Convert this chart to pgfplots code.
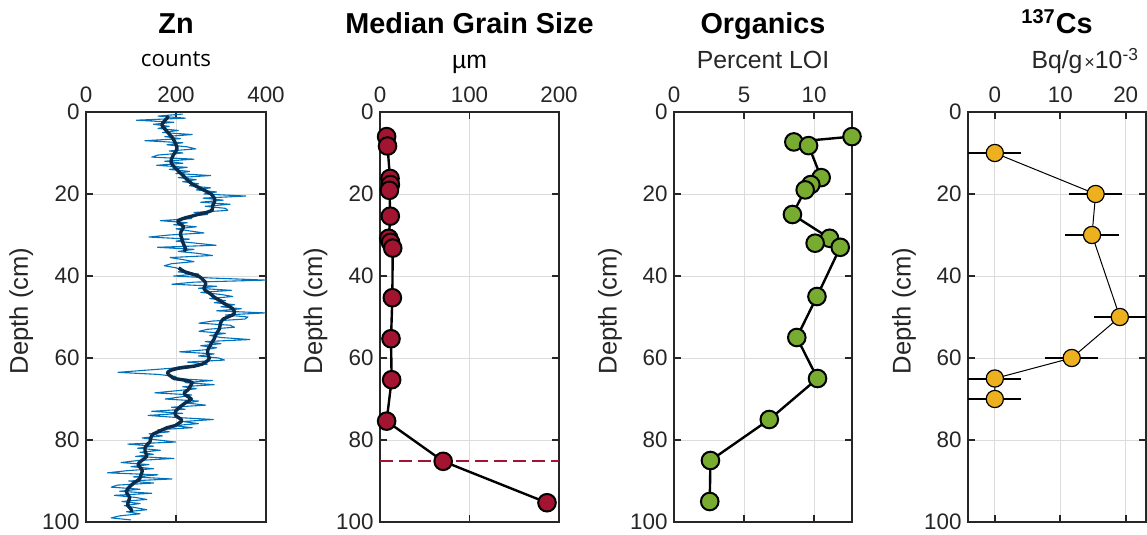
\documentclass[border=0pt]{standalone}
\usepackage{pgfplots}
\pgfplotsset{compat=1.18}
\usepackage{fontspec}
\setmainfont{Liberation Sans}
\newfontfamily\segoe{Open Sans}
\definecolor{tickgray}{HTML}{262626}
\definecolor{gridgray}{HTML}{DCDCDC}
\definecolor{znblue}{HTML}{0072BD}
\definecolor{zndark}{HTML}{0B2D4B}
\definecolor{grainred}{HTML}{A2142F}
\definecolor{orggreen}{HTML}{77AC30}
\definecolor{csorange}{HTML}{EDB120}

\pgfplotstableread{
x y
215 0.5
160 1.0
221 1.5
112 2.0
195 2.5
150 3.0
185 3.5
160 4.0
205 4.5
170 5.0
236 5.5
175 6.0
210 6.5
131 7.0
215 7.5
180 8.0
225 8.5
244 9.0
185 9.5
215 10.0
160 10.5
146 11.0
240 11.5
175 12.0
215 12.5
157 13.0
225 13.5
185 14.0
230 14.5
200 15.0
277 15.5
205 16.0
245 16.5
215 17.0
250 17.5
230 18.0
277 18.5
245 19.0
290 19.5
262 20.0
355 20.5
260 21.0
305 21.5
255 22.0
320 22.5
265 23.0
310 23.5
315 24.0
240 24.5
270 25.0
220 25.5
235 26.0
165 26.5
225 27.0
195 27.5
245 28.0
200 28.5
230 29.0
262 29.5
185 30.0
140 30.5
230 31.0
200 31.5
245 32.0
289 32.5
159 33.0
240 33.5
205 34.0
250 34.5
281 35.0
187 35.5
215 36.0
240 36.5
190 37.0
174 37.5
200 38.0
215 38.5
205 39.0
250 39.5
195 40.0
280 40.5
399 41.0
240 41.5
191 42.0
290 42.5
250 43.0
323 43.5
255 44.0
300 44.5
326 45.0
275 45.5
310 46.0
285 46.5
330 47.0
300 47.5
345 48.0
290 48.5
398 49.0
310 49.5
360 50.0
353 50.5
280 51.0
251 51.5
320 52.0
330 52.5
270 53.0
251 53.5
310 54.0
275 54.5
300 55.0
364 55.5
265 56.0
300 56.5
255 57.0
290 57.5
265 58.0
208 58.5
285 59.0
250 59.5
295 60.0
308 60.5
225 61.0
270 61.5
215 62.0
190 62.5
130 63.0
71 63.5
160 64.0
200 64.5
190 65.0
281 65.5
220 66.0
285 66.5
215 67.0
245 67.5
200 68.0
153 68.5
235 69.0
210 69.5
176 70.0
250 70.5
225 71.0
266 71.5
190 72.0
220 72.5
146 73.0
215 73.5
138 74.0
200 74.5
283 75.0
215 75.5
250 76.0
195 76.5
236 77.0
160 77.5
185 78.0
140 78.5
170 79.0
125 79.5
160 80.0
199 80.5
93 81.0
150 81.5
115 82.0
165 82.5
120 83.0
150 83.5
110 84.0
195 84.5
115 85.0
78 85.5
140 86.0
100 86.5
150 87.0
90 87.5
48 88.0
160 88.5
105 89.0
191 89.5
95 90.0
150 90.5
70 91.0
56 91.5
120 92.0
75 92.5
146 93.0
63 93.5
110 94.0
135 94.5
80 95.0
120 95.5
85 96.0
110 96.5
135 97.0
90 97.5
120 98.0
75 98.5
56 99.0
100 99.5
}\znraw

\pgfplotstableread{
x y
183 1.0
180 1.5
176 2.0
172 2.5
169 3.0
170 3.5
174 4.0
178 4.5
182 5.0
186 5.5
190 6.0
193 6.5
196 7.0
198 7.5
200 8.0
202 8.5
202 9.0
200 9.5
197 10.0
194 10.5
192 11.0
190 11.5
189 12.0
190 12.5
193 13.0
197 13.5
202 14.0
206 14.5
211 15.0
216 15.5
220 16.0
225 16.5
230 17.0
235 17.5
243 18.0
252 18.5
261 19.0
270 19.5
278 20.0
282 20.5
285 21.0
286 21.5
285 22.0
283 22.5
281 23.0
281 23.5
280 24.0
268 24.5
248 25.0
232 25.5
215 26.0
204 26.5
205 27.0
212 27.5
217 28.0
215 28.5
212 29.0
210 29.5
210 30.0
212 30.5
213 31.0
214 31.5
216 32.0
218 32.5
220 33.0
221 33.5
218 34.0
nan nan
206 38.0
212 38.5
220 39.0
235 39.5
250 40.0
256 40.5
261 41.0
265 41.5
266 42.0
264 42.5
262 43.0
265 43.5
272 44.0
278 44.5
283 45.0
290 45.5
298 46.0
304 46.5
312 47.0
320 47.5
326 48.0
329 48.5
330 49.0
326 49.5
315 50.0
305 50.5
301 51.0
299 51.5
298 52.0
297 52.5
296 53.0
293 53.5
290 54.0
288 54.5
286 55.0
284 55.5
281 56.0
278 56.5
276 57.0
273 57.5
271 58.0
270 58.5
271 59.0
272 59.5
274 60.0
272 60.5
266 61.0
258 61.5
240 62.0
205 62.5
188 63.0
181 63.5
183 64.0
189 64.5
196 65.0
225 65.5
236 66.0
234 66.5
231 67.0
229 67.5
224 68.0
218 68.5
220 69.0
228 69.5
234 70.0
228 70.5
220 71.0
214 71.5
208 72.0
203 72.5
199 73.0
198 73.5
199 74.0
205 74.5
212 75.0
212 75.5
205 76.0
198 76.5
180 77.0
170 77.5
160 78.0
150 78.5
146 79.0
144 79.5
143 80.0
142 80.5
137 81.0
133 81.5
131 82.0
131 82.5
132 83.0
134 83.5
135 84.0
130 84.5
124 85.0
118 85.5
116 86.0
119 86.5
123 87.0
125 87.5
124 88.0
122 88.5
121 89.0
119 89.5
113 90.0
106 90.5
101 91.0
96 91.5
92 92.0
90 92.5
91 93.0
94 93.5
97 94.0
96 94.5
94 95.0
93 95.5
93 96.0
97 96.5
101 97.0
101 97.5
}\znsmooth

\pgfplotstableread{
x y
7.4 6.0
8.4 8.3
11.2 16.2
11.6 17.7
10.5 19.1
11.5 25.4
9.8 30.8
11.8 31.8
14.2 33.2
13.8 45.3
12.3 55.3
13.0 65.3
7.4 75.4
70.6 85.2
186.6 95.3
}\grain

\pgfplotstableread{
x y
12.70 6.0
8.55 7.3
9.60 8.2
10.50 16.0
9.76 17.7
9.36 19.0
8.45 25.0
11.10 30.8
10.07 32.0
11.86 33.0
10.20 45.0
8.76 55.0
10.24 65.0
6.80 75.0
2.60 85.0
2.55 95.0
}\organics

\pgfplotstableread{
x y e
0.0 10 4.05
15.4 20 4.1
14.85 30 4.1
19.1 50 4.0
11.75 60 4.05
0.0 65 4.05
0.0 70 4.05
}\cs

\pgfplotsset{
  panel/.style={
    scale only axis, width=89.5pt, height=205pt,
    anchor=south west,
    ymin=0, ymax=100, y dir=reverse, ytick={0,20,...,100},
    xtick pos=both, ytick pos=both,
    xticklabel pos=upper, yticklabel pos=left,
    tick align=inside,
    major tick length=3.5pt,
    grid=major, major grid style={draw=gridgray, line width=0.45pt},
    axis line style={draw=tickgray, line width=0.9pt},
    every tick/.style={draw=tickgray, line width=0.9pt},
    tick label style={font=\fontsize{11.2}{13}\selectfont, text=tickgray},
    /pgf/number format/assume math mode=true,
    xticklabel style={anchor=base, yshift=5pt},
    yticklabel style={anchor=east, inner xsep=0pt, xshift=-3pt},
    ylabel={Depth (cm)},
    every axis y label/.style={at={(axis description cs:-0.36,0.515)}, rotate=90, anchor=center, font=\fontsize{12.8}{14}\selectfont, text=tickgray},
    clip=false,
    scaled ticks=false,
  },
}
\tikzset{
  ttl/.style={anchor=base, yshift=39.25pt, font=\fontsize{14.4}{16}\selectfont\bfseries},
  sub/.style={anchor=base, yshift=21.5pt, font=\fontsize{12.4}{14}\selectfont, text=tickgray},
}

\begin{document}
\begin{tikzpicture}
% Panel 1: Zn
\begin{axis}[panel, at={(43pt,6.5pt)}, width=90pt,
  xmin=0, xmax=400, xtick={0,200,400}]
\addplot[color=znblue, line width=0.55pt, line join=round] table[x=x,y=y] {\znraw};
\addplot[color=zndark, line width=1.7pt, line join=round, unbounded coords=jump] table[x=x,y=y] {\znsmooth};
\node[ttl] at (axis description cs:0.5,1) {Zn};
\node[sub, yshift=1.5pt, font=\segoe\fontsize{11.2}{13}\selectfont, text=black] at (axis description cs:0.5,1) {counts};
\end{axis}

% Panel 2: Median grain size
\begin{axis}[panel, at={(190pt,6.5pt)},
  xmin=0, xmax=200, xtick={0,100,200}]
\addplot[color=grainred, line width=1pt, dash pattern=on 6.5pt off 3pt] coordinates {(0,85) (200,85)};
\addplot[black, line width=1.2pt, mark=*, mark size=4.4pt,
  mark options={fill=grainred, draw=black, line width=1pt}] table[x=x,y=y] {\grain};
\node[ttl] at (axis description cs:0.5,1) {Median Grain Size};
\node[sub, text=black] at (axis description cs:0.5,1) {µm};
\end{axis}

% Panel 3: Organics
\begin{axis}[panel, at={(337pt,6.5pt)}, width=89pt,
  xmin=0, xmax=12.7, xtick={0,5,10}]
\addplot[black, line width=1.2pt, mark=*, mark size=4.4pt,
  mark options={fill=orggreen, draw=black, line width=1pt}] table[x=x,y=y] {\organics};
\node[ttl] at (axis description cs:0.5,1) {Organics};
\node[sub] at (axis description cs:0.5,1) {Percent LOI};
\end{axis}

% Panel 4: 137Cs
\begin{axis}[panel, at={(484pt,6.5pt)}, width=89pt,
  xmin=-4.1, xmax=23.1, xtick={0,10,20}]
\addplot[black, line width=0.5pt, mark=*, mark size=4.3pt,
  mark options={fill=csorange, draw=black, line width=0.6pt},
  error bars/.cd, x dir=both, x explicit, error mark=none,
  error bar style={line width=1pt, black}]
  table[x=x, y=y, x error=e] {\cs};
\node[ttl] at (axis description cs:0.5,1) {\textsuperscript{137}Cs};
\node[sub] at (axis description cs:0.5,1) {Bq/g};
\node[sub, anchor=base east] at (axis description cs:1,1) {{\fontsize{9}{10}\selectfont×}10\textsuperscript{-3}};
\end{axis}

\pgfresetboundingbox
\path[use as bounding box] (0,0) rectangle (573.5pt,267.5pt);
\end{tikzpicture}
\end{document}
